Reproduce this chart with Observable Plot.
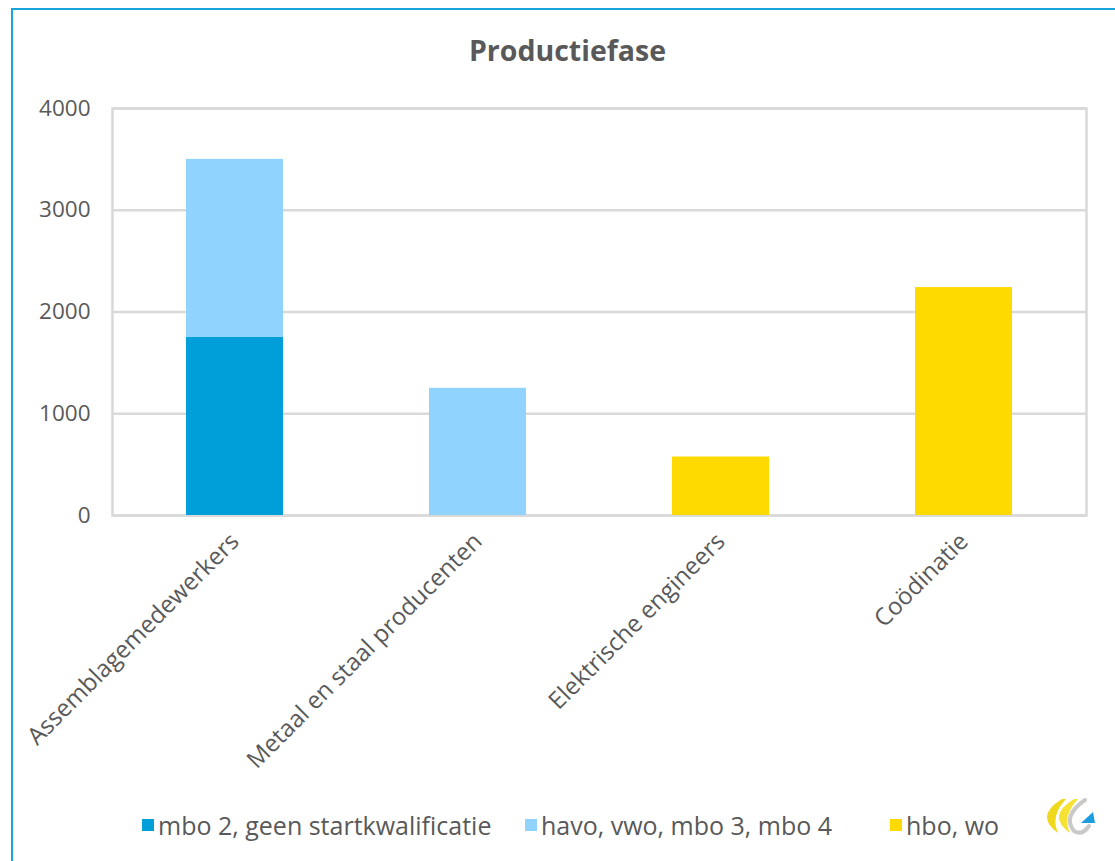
<!DOCTYPE html>
<html><head><meta charset="utf-8">
<script src="https://cdn.jsdelivr.net/npm/d3@7"></script>
<script src="https://cdn.jsdelivr.net/npm/@observablehq/plot@0.6"></script>
<style>
body{margin:0;background:#fff;}
#wrap{position:relative;width:1115px;height:861px;overflow:hidden;font-family:"Open Sans",sans-serif;color:#595959;background:#fff;}
.fl{position:absolute;left:11px;top:8px;width:2px;height:900px;background:#1aa3dd;}
.ft{position:absolute;left:11px;top:8px;width:1200px;height:2px;background:#1aa3dd;}
#title{position:absolute;left:10px;width:1115px;top:31px;text-align:center;font-weight:bold;font-size:28.5px;color:#595959;}
#chart{position:absolute;left:0;top:80px;}
.li{position:absolute;top:808px;font-size:25px;color:#595959;white-space:nowrap;display:flex;align-items:center;}
.sw{width:12px;height:12px;margin-right:4px;display:inline-block;}
#logo{position:absolute;left:1040px;top:795px;}
</style></head><body>
<div id="wrap">
  <div class="fl"></div><div class="ft"></div>
  <div id="title">Productiefase</div>
  <div id="chart"></div>
  <div id="legend"></div>
  <svg id="logo" width="60" height="45" viewBox="1040 795 60 45">
    <path d="M1062,799 Q1034,816 1058,833 Q1050,816 1066,799 Z" fill="#f0d81c"/>
    <path d="M1074,799 Q1046,816 1070,833 Q1062,816 1078,799 Z" fill="#f6e234"/>
    <path d="M1085,800 Q1062,816 1074,831 Q1082,836 1089,826" stroke="#c9c9c9" stroke-width="4" fill="none" stroke-linecap="round"/>
    <polygon points="1081,823 1095,823 1093,812" fill="#1a9ee0"/>
  </svg>
</div>
<script>
const categories = ["Assemblagemedewerkers","Metaal en staal producenten","Elektrische engineers","Coödinatie"];
const seriesNames = ["mbo 2, geen startkwalificatie","havo, vwo, mbo 3, mbo 4","hbo, wo"];
const seriesColors = ["#009FDA","#8FD3FE","#FFDA00"];
const mbo2Values = [1750, 0, 0, 0];
const havoValues = [1750, 1250, 0, 0];
const hboValues = [0, 0, 575, 2240];
const yTicks = [0, 1000, 2000, 3000, 4000];

const seriesValues = [mbo2Values, havoValues, hboValues];
const data = [];
seriesNames.forEach((s, i) => categories.forEach((c, j) => data.push({category: c, series: s, value: seriesValues[i][j]})));

const chart = Plot.plot({
  width: 1115,
  height: 700,
  marginTop: 28,
  marginBottom: 265,
  marginLeft: 112,
  marginRight: 29,
  style: {fontFamily: '"Open Sans",sans-serif', color: "#595959", background: "transparent"},
  x: {domain: categories, paddingInner: 0.6, paddingOuter: 0.3},
  y: {domain: [0, 4000]},
  color: {domain: seriesNames, range: seriesColors},
  marks: [
    Plot.ruleY(yTicks, {stroke: "#d9d9d9", strokeWidth: 2.5}),
    Plot.frame({stroke: "#d9d9d9", strokeWidth: 2.5}),
    Plot.barY(data, {x: "category", y: "value", fill: "series"}),
    Plot.axisY({ticks: yTicks, tickFormat: d => String(d), tickSize: 0, tickPadding: 22, fontSize: 22.5, fill: "#595959", label: null}),
    Plot.axisX({tickSize: 0, tickRotate: -45, tickPadding: 22, fontSize: 24, fill: "#595959", label: null})
  ]
});
document.getElementById("chart").appendChild(chart);

const legendLefts = [142, 525, 890];
const legend = document.getElementById("legend");
seriesNames.forEach((s, i) => {
  const d = document.createElement("div");
  d.className = "li";
  d.style.left = legendLefts[i] + "px";
  d.innerHTML = `<span class="sw" style="background:${seriesColors[i]}"></span><span>${s}</span>`;
  legend.appendChild(d);
});
</script>
</body></html>
